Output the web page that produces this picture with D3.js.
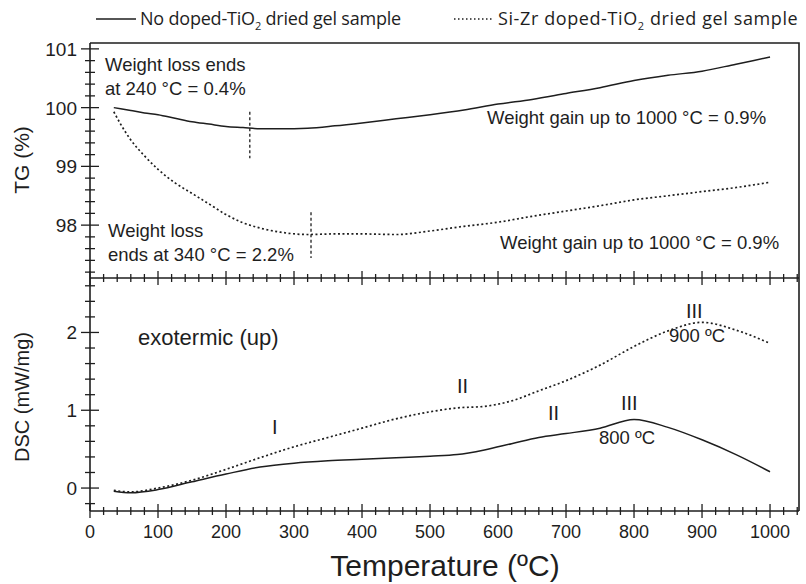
<!DOCTYPE html>
<html>
<head>
<meta charset="utf-8">
<script src="https://cdn.jsdelivr.net/npm/d3@7"></script>
<style>
  body { margin: 0; background: #fff; }
  svg { display: block; font-family: "Liberation Sans", Arial, sans-serif; }
</style>
</head>
<body>
<div id="chart"></div>
<script>
// Temperatures (ºC) where each curve was read
const tgTemps = [35, 45, 60, 80, 100, 125, 150, 175, 200, 225, 250, 280, 320, 360, 400, 450, 500, 550, 600, 650, 700, 750, 800, 850, 900, 950, 1000]
// TG (%) of the no doped-TiO2 sample
const tgPlain = [100.0, 99.98, 99.95, 99.91, 99.88, 99.82, 99.76, 99.72, 99.68, 99.66, 99.64, 99.64, 99.65, 99.69, 99.74, 99.81, 99.88, 99.96, 100.06, 100.14, 100.24, 100.34, 100.46, 100.55, 100.62, 100.74, 100.86]
// TG (%) of the Si-Zr doped-TiO2 sample
const tgDoped = [99.93, 99.72, 99.45, 99.18, 98.95, 98.72, 98.54, 98.36, 98.18, 98.04, 97.95, 97.88, 97.84, 97.85, 97.85, 97.84, 97.9, 97.98, 98.05, 98.15, 98.24, 98.33, 98.43, 98.5, 98.57, 98.64, 98.73]

const dscTemps = [35, 60, 100, 150, 200, 250, 300, 350, 400, 450, 500, 540, 580, 620, 660, 700, 750, 800, 850, 900, 950, 1000]
// DSC (mW/mg) of the no doped-TiO2 sample
const dscPlain = [-0.04, -0.06, -0.02, 0.08, 0.18, 0.27, 0.32, 0.35, 0.37, 0.39, 0.41, 0.43, 0.49, 0.57, 0.65, 0.7, 0.77, 0.88, 0.78, 0.62, 0.43, 0.21]
// DSC (mW/mg) of the Si-Zr doped-TiO2 sample
const dscDoped = [-0.03, -0.05, 0.0, 0.1, 0.24, 0.39, 0.53, 0.65, 0.77, 0.89, 0.98, 1.03, 1.05, 1.12, 1.25, 1.38, 1.58, 1.82, 2.02, 2.13, 2.03, 1.86]

// Tick values
const tempTicks = d3.range(0, 1001, 100)
const tgTicks = [98, 99, 100, 101]
const dscTicks = [0, 1, 2]

// Weight loss end markers: [temperature, TG from, TG to]
const tgMarkers = [[235, 99.93, 99.14], [325, 98.22, 97.44]]

const width = 806
const height = 584

// Plot frame
const frameLeft = 90
const frameRight = 799
const frameTop = 43
const frameMiddle = 278
const frameBottom = 511

const svg = d3.select("#chart").append("svg")
  .attr("width", width)
  .attr("height", height)

// Scales
const x = d3.scaleLinear().domain([0, 1042.6]).range([frameLeft, frameRight])
const yTg = d3.scaleLinear().domain([97.1, 101.1]).range([frameMiddle, frameTop])
const yDsc = d3.scaleLinear().domain([-0.295, 2.7]).range([frameBottom, frameMiddle])

const ink = "#1e1e1e"

// Frame lines (top and right)
svg.append("path")
  .attr("d", `M${frameLeft},${frameTop}H${frameRight}V${frameBottom}`)
  .attr("fill", "none")
  .attr("stroke", ink)
  .attr("stroke-width", 1.6)

// Horizontal axes: middle (no labels) and bottom (labels), ticks cross the line
function drawXAxis(y, labels) {
  const minor = d3.range(0, 1041, 20)
  const g = svg.append("g").attr("transform", `translate(0,${y})`)
  g.append("line")
    .attr("x1", frameLeft).attr("x2", frameRight)
    .attr("stroke", ink).attr("stroke-width", 1.6)
  g.selectAll(".minor")
    .data(minor)
    .enter()
    .append("line")
    .attr("x1", d => x(d)).attr("x2", d => x(d))
    .attr("y1", d => d % 100 === 0 ? -7 : -4)
    .attr("y2", d => d % 100 === 0 ? 7 : 4)
    .attr("stroke", ink)
    .attr("stroke-width", 1.3)
  if (labels) {
    g.selectAll(".lbl")
      .data(tempTicks)
      .enter()
      .append("text")
      .attr("x", d => x(d))
      .attr("y", 27)
      .attr("text-anchor", "middle")
      .style("font-size", "18px")
      .style("fill", ink)
      .text(d => d)
  }
}

// Vertical axis with minor ticks every 0.2
function drawYAxis(scale, ticks, lo, hi) {
  const minor = d3.range(lo, hi + 0.001, 0.2).map(d => Math.round(d * 10) / 10)
  const g = svg.append("g")
  g.append("line")
    .attr("x1", frameLeft).attr("x2", frameLeft)
    .attr("y1", scale.range()[0]).attr("y2", scale.range()[1])
    .attr("stroke", ink).attr("stroke-width", 1.6)
  g.selectAll(".minor")
    .data(minor)
    .enter()
    .append("line")
    .attr("y1", d => scale(d)).attr("y2", d => scale(d))
    .attr("x1", d => ticks.includes(d) ? frameLeft - 9 : frameLeft - 5)
    .attr("x2", d => ticks.includes(d) ? frameLeft + 9 : frameLeft + 5)
    .attr("stroke", ink)
    .attr("stroke-width", 1.3)
  g.selectAll(".lbl")
    .data(ticks)
    .enter()
    .append("text")
    .attr("x", frameLeft - 13)
    .attr("y", d => scale(d) + 7)
    .attr("text-anchor", "end")
    .style("font-size", "19px")
    .style("fill", ink)
    .text(d => d)
}

drawXAxis(frameMiddle, false)
drawXAxis(frameBottom, true)
drawYAxis(yTg, tgTicks, 97.2, 101)
drawYAxis(yDsc, dscTicks, -0.2, 2.6)

// Axis titles
function axisTitle(text, cx, cy, size, rotate) {
  svg.append("text")
    .attr("transform", `translate(${cx},${cy})` + (rotate ? " rotate(-90)" : ""))
    .attr("text-anchor", "middle")
    .style("font-size", size + "px")
    .style("fill", ink)
    .text(text)
}
axisTitle("TG (%)", 29, 160, 21, true)
axisTitle("DSC (mW/mg)", 29, 397, 20, true)
axisTitle("Temperature (ºC)", 445, 576, 30, false)

// Curves
function drawCurve(temps, values, yScale, dotted) {
  const line = d3.line()
    .x((d, i) => x(temps[i]))
    .y(d => yScale(d))
    .curve(d3.curveMonotoneX)
  svg.append("path")
    .datum(values)
    .attr("d", line)
    .attr("fill", "none")
    .attr("stroke", ink)
    .attr("stroke-width", dotted ? 1.7 : 1.5)
    .attr("stroke-dasharray", dotted ? "2,2.5" : null)
}
drawCurve(tgTemps, tgPlain, yTg, false)
drawCurve(tgTemps, tgDoped, yTg, true)
drawCurve(dscTemps, dscPlain, yDsc, false)
drawCurve(dscTemps, dscDoped, yDsc, true)

// Weight loss end markers
svg.selectAll(".marker")
  .data(tgMarkers)
  .enter()
  .append("line")
  .attr("x1", d => x(d[0])).attr("x2", d => x(d[0]))
  .attr("y1", d => yTg(d[1])).attr("y2", d => yTg(d[2]))
  .attr("stroke", ink)
  .attr("stroke-width", 1.3)
  .attr("stroke-dasharray", "3,2.5")

// Annotations
function note(text, nx, ny, size) {
  svg.append("text")
    .attr("x", nx)
    .attr("y", ny)
    .style("font-size", (size || 18.5) + "px")
    .style("fill", ink)
    .text(text)
}
note("Weight loss ends", 105, 71)
note("at 240 °C = 0.4%", 105, 95)
note("Weight gain up to 1000 °C = 0.9%", 487, 124)
note("Weight loss", 108, 237)
note("ends at 340 °C = 2.2%", 108, 261)
note("Weight gain up to 1000 °C = 0.9%", 500, 249)
note("exotermic (up)", 138, 345, 22)
note("I", 272, 434, 20)
note("II", 457, 393, 20)
note("II", 548, 420, 20)
note("III", 621, 410, 20)
note("800 ºC", 599, 444, 18.5)
note("III", 686, 318, 20)
note("900 ºC", 669, 342, 18.5)

// Legend
function legendItem(lx, dotted, label, spacing) {
  svg.append("line")
    .attr("x1", lx).attr("x2", lx + 40)
    .attr("y1", 19).attr("y2", 19)
    .attr("stroke", ink)
    .attr("stroke-width", 1.4)
    .attr("stroke-dasharray", dotted ? "1.5,2.5" : null)
  const t = svg.append("text")
    .attr("x", lx + 44)
    .attr("y", 25)
    .style("font-family", "'Open Sans', sans-serif")
    .style("font-size", "18px")
    .style("letter-spacing", spacing + "px")
    .style("fill", ink)
  t.append("tspan").text(label[0])
  t.append("tspan").attr("dy", 5).style("font-size", "11px").text("2")
  t.append("tspan").attr("dy", -5).text(label[1])
}
legendItem(96, false, ["No doped-TiO", " dried gel sample"], -0.2)
legendItem(454, true, ["Si-Zr doped-TiO", " dried gel sample"], 0.6)
</script>
</body>
</html>
